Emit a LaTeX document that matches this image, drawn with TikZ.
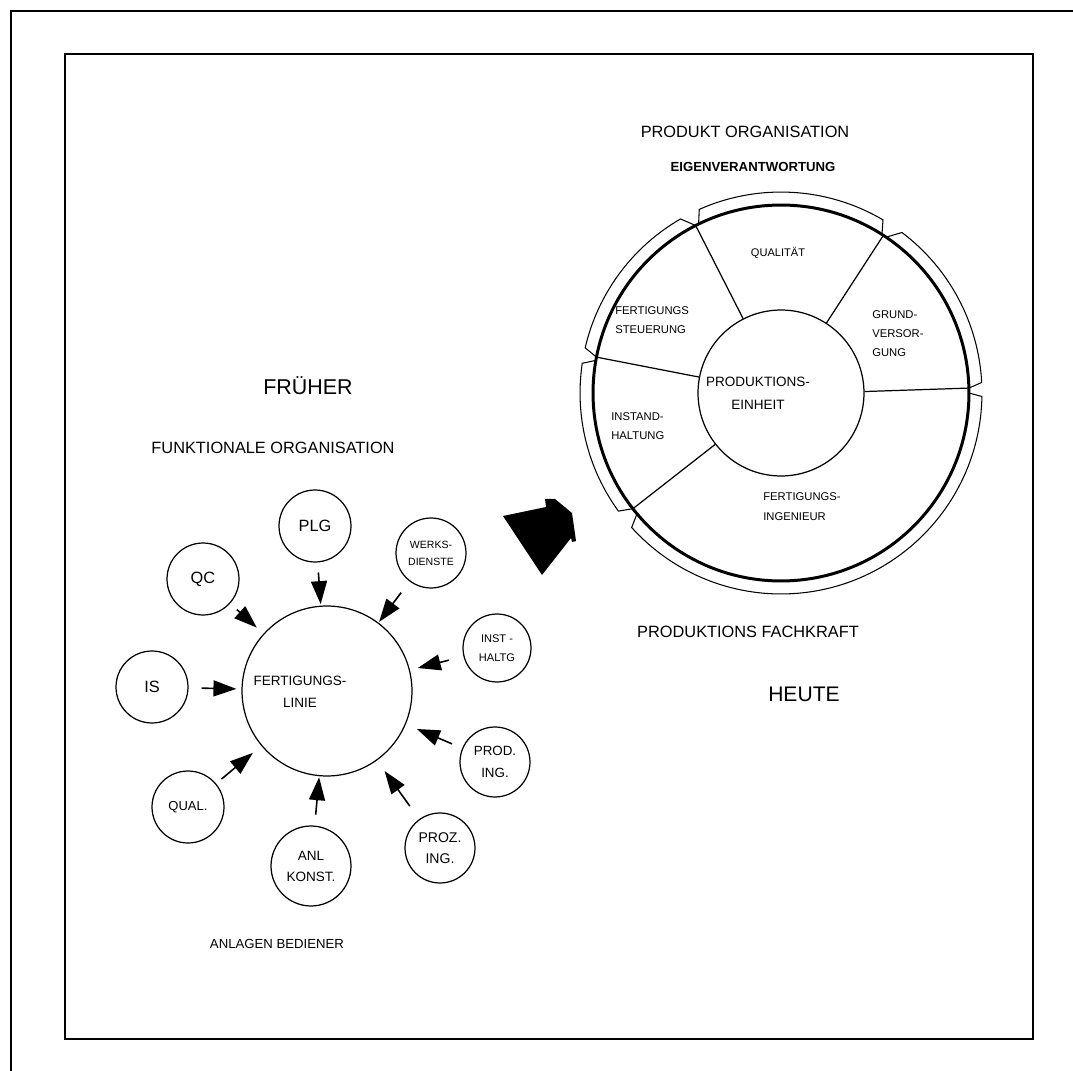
\documentclass[tikz,border=0pt]{standalone}
\usepackage{fontspec}
\setmainfont{Liberation Sans}
\usetikzlibrary{arrows.meta,calc}
\newcommand{\fsz}[2]{\fontsize{#1}{#2}\selectfont}

\begin{document}
\begin{tikzpicture}[x=0.02cm,y=-0.02cm,
  unit/.style={circle, draw, line width=0.7pt, inner sep=0pt, align=center},
  feed/.style={line width=0.9pt, -{Triangle[length=4.6mm,width=3.2mm]}},
  lbl/.style={inner sep=0pt, align=left, anchor=west, font={\fsz{6.4}{10.8}}}]

\useasboundingbox (0,0) rectangle (1073,1071);

% Frames
\draw[line width=1pt] (11,1071) -- (11,11) -- (1073,11);
\draw[line width=0.9pt] (65,54) rectangle (1033,1039);

% Titles
\node[font={\fsz{9.3}{11}}] at (745,132) {PRODUKT ORGANISATION};
\node[font={\bfseries\fsz{7.5}{9}}] at (753,167) {EIGENVERANTWORTUNG};
\node[font={\fsz{12.2}{14}}] at (308,386) {FRÜHER};
\node[font={\fsz{9.3}{11}}] at (273,448) {FUNKTIONALE ORGANISATION};
\node[font={\fsz{9.3}{11}}] at (748,632) {PRODUKTIONS FACHKRAFT};
\node[font={\fsz{12}{14}}] at (804,694) {HEUTE};
\node[font={\fsz{7.5}{9}}] at (277,944) {ANLAGEN BEDIENER};

% Functional organisation (left)
\node[unit, minimum size=3.4cm] (fl) at (327,691) {};
\node[font={\fsz{7.7}{12.5}}, align=center] at (300,692) {FERTIGUNGS-\\LINIE};

\node[unit, minimum size=1.44cm, font={\fsz{9.3}{11}}] (plg) at (315,526) {PLG};
\node[unit, minimum size=1.44cm, font={\fsz{9.3}{11}}] (qc) at (203,579) {QC};
\node[unit, minimum size=1.4cm, font={\fsz{6}{9.7}}] (werks) at (431,553) {WERKS-\\DIENSTE};
\node[unit, minimum size=1.36cm, font={\fsz{6.3}{10.8}}] (inst) at (497,648) {INST -\\HALTG};
\node[unit, minimum size=1.44cm, font={\fsz{9.3}{11}}] (is) at (152,687) {IS};
\node[unit, minimum size=1.44cm, font={\fsz{7.4}{9}}] (qual) at (188,807) {QUAL.};
\node[unit, minimum size=1.6cm, font={\fsz{7.7}{12}}] (anl) at (311,866) {ANL\\KONST.};
\node[unit, minimum size=1.4cm, font={\fsz{8}{12}}] (proz) at (440,848) {PROZ.\\ING.};
\node[unit, minimum size=1.4cm, font={\fsz{7.6}{12.5}}] (prod) at (495,762) {PROD.\\ING.};

% Arrows into the production line
\foreach \s/\a/\b in {plg/2mm/0.3mm, qc/1.8mm/1.8mm, werks/2.8mm/0.2mm, inst/3mm/1.6mm, is/2.6mm/1mm, qual/1.4mm/2.2mm, anl/2.2mm/0.2mm, proz/3.2mm/2.6mm, prod/2.2mm/2.4mm} {
  \draw[feed, shorten <=\a, shorten >=\b] (\s) -- (fl);
}

% Big transition arrow
\fill[black] (503,516) -- (546,507) -- (545,499) -- (555,499) -- (572,513) -- (576,541) -- (572,542) -- (571,538) -- (542,575) -- cycle;

% Product organisation wheel (right)
\coordinate (wc) at (781,393);
\node[circle, draw, line width=0.7pt, minimum size=3.32cm, inner sep=0pt] (pe) at (wc) {};
\draw[line width=1.7pt] (wc) circle[radius=3.76cm];

% Spokes
\foreach \a in {117,57,1.5,218,169} {
  \draw[line width=0.7pt] (pe.\a) -- ($(wc)+(\a:3.76cm)$);
}

% Outer bands
\foreach \p/\q/\r/\s in {169/167/120/117, 116/114/59.5/57.5, 56/53/3/1.5, 0/-1/-138/-140, 218/216/171.5/170} {
  \draw[line width=0.6pt] ($(wc)+(\p:3.76cm)$) -- ($(wc)+(\q:4.02cm)$)
    arc[start angle=\q, end angle=\r, radius=4.02cm] -- ($(wc)+(\s:3.76cm)$);
}

% Wheel labels
\node[font={\fsz{7.7}{13}}, align=center] at (758,393) {PRODUKTIONS-\\EINHEIT};
\node[font={\fsz{6.3}{8}}] at (778,253) {QUALITÄT};
\node[lbl] at (615,320) {FERTIGUNGS\\STEUERUNG};
\node[lbl] at (872,334) {GRUND-\\VERSOR-\\GUNG};
\node[lbl] at (611,426) {INSTAND-\\HALTUNG};
\node[lbl, font={\fsz{6.4}{11.4}}] at (763,507) {FERTIGUNGS-\\INGENIEUR};

\end{tikzpicture}
\end{document}
